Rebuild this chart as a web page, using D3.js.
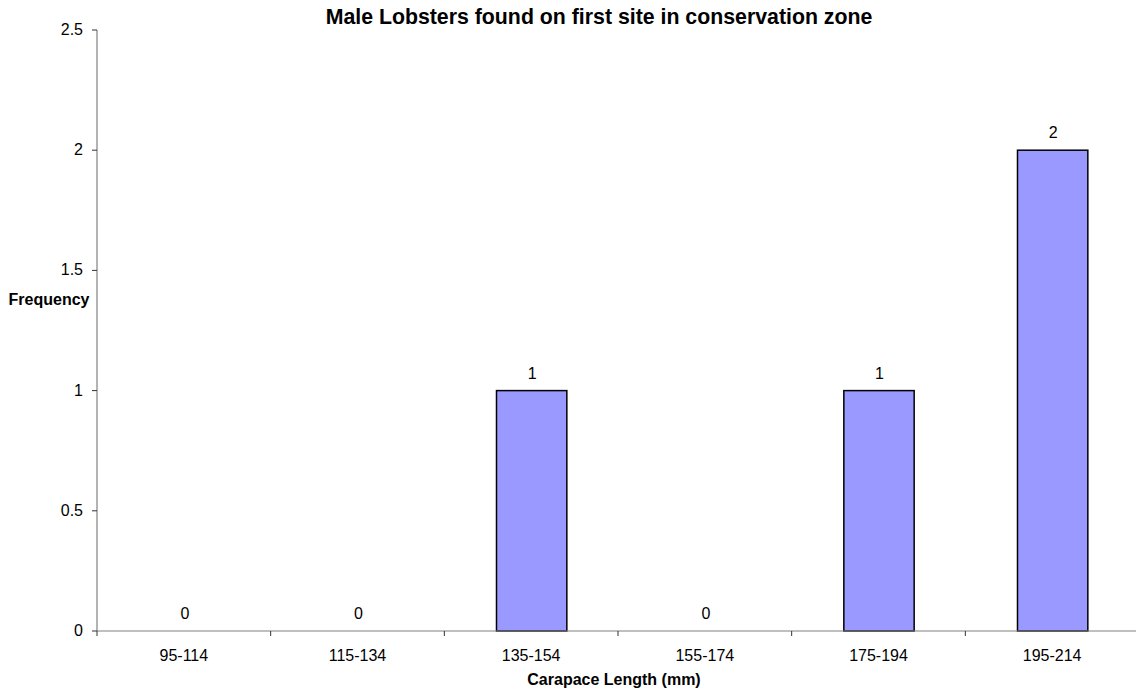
<!DOCTYPE html>
<html><head><meta charset="utf-8">
<script src="https://cdn.jsdelivr.net/npm/d3@7"></script>
<style>
body{margin:0;background:#fff;}
text{font-family:"Liberation Sans",Arial,sans-serif;fill:#000;}
</style></head>
<body><svg id="c" width="1136" height="694"></svg>
<script>
const categories = ["95-114","115-134","135-154","155-174","175-194","195-214"];
const values = [0,0,1,0,1,2];
const yTicks = [0,0.5,1,1.5,2,2.5];

const svg = d3.select("#c");
const m = {l:97, r:1139, t:30, b:631};
const x = d3.scaleBand().domain(categories).range([m.l, m.r]).paddingInner(0.595).paddingOuter(0.2975);
const xStep = d3.scaleBand().domain(categories).range([m.l, m.r]);
const y = d3.scaleLinear().domain([0,2.5]).range([m.b, m.t]);

// bars
svg.selectAll("rect.bar").data(values).join("rect")
  .attr("x",(d,i)=>x(categories[i])+0.5)
  .attr("y",d=>y(d))
  .attr("width",x.bandwidth())
  .attr("height",d=>y(0)-y(d))
  .attr("fill","#9999FF").attr("stroke","#000").attr("stroke-width",1.5)
  .attr("display",d=>d>0?null:"none");

// y axis
const axisColor="#808080";
svg.append("line").attr("x1",m.l).attr("x2",m.l).attr("y1",y(2.5)).attr("y2",y(0)).attr("stroke",axisColor).attr("stroke-width",1.2);
svg.selectAll("line.yt").data(yTicks).join("line")
  .attr("x1",m.l-5).attr("x2",m.l).attr("y1",d=>y(d)).attr("y2",d=>y(d)).attr("stroke","#333").attr("stroke-width",1);
svg.selectAll("text.yl").data(yTicks).join("text")
  .attr("x",m.l-14).attr("y",d=>y(d)+5).attr("text-anchor","end").attr("font-size",16).text(d=>d);

// x axis
svg.append("line").attr("x1",m.l).attr("x2",1136).attr("y1",y(0)).attr("y2",y(0)).attr("stroke",axisColor).attr("stroke-width",1.2);
const xt = categories.map(c=>xStep(c));
svg.selectAll("line.xt").data(xt).join("line")
  .attr("x1",d=>d).attr("x2",d=>d).attr("y1",y(0)).attr("y2",y(0)+5).attr("stroke","#333").attr("stroke-width",1);
svg.selectAll("text.xl").data(categories).join("text")
  .attr("x",d=>xStep(d)+xStep.bandwidth()/2).attr("y",y(0)+30).attr("text-anchor","middle").attr("font-size",16).text(d=>d);

// data labels
svg.selectAll("text.dl").data(values).join("text")
  .attr("x",(d,i)=>xStep(categories[i])+xStep.bandwidth()/2+1).attr("y",d=>y(d)-12)
  .attr("text-anchor","middle").attr("font-size",16).text(d=>d);

// titles
svg.append("text").attr("x",599).attr("y",24).attr("text-anchor","middle").attr("font-size",21.3).attr("font-weight","bold")
  .text("Male Lobsters found on first site in conservation zone");
svg.append("text").attr("x",49).attr("y",305).attr("text-anchor","middle").attr("font-size",16).attr("font-weight","bold").text("Frequency");
svg.append("text").attr("x",614).attr("y",685).attr("text-anchor","middle").attr("font-size",16).attr("font-weight","bold").text("Carapace Length (mm)");
</script></body></html>
